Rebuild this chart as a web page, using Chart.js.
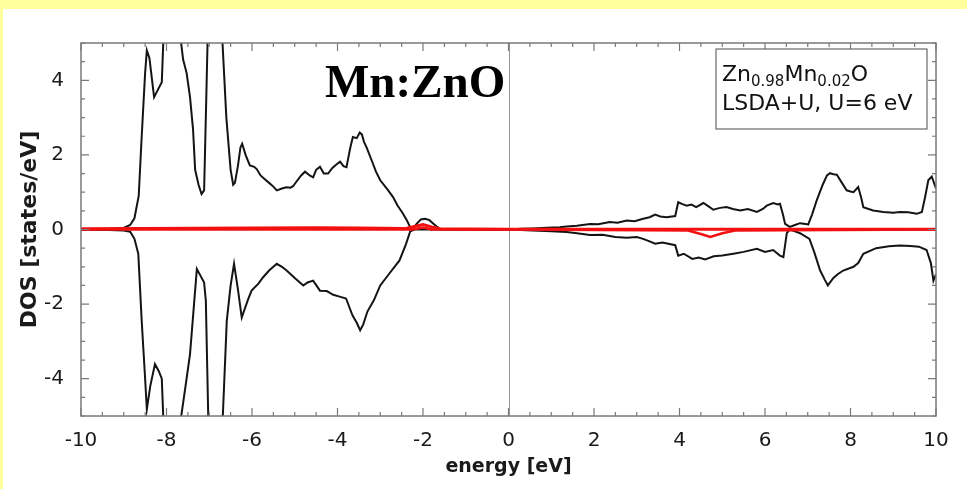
<!DOCTYPE html>
<html>
<head>
<meta charset="utf-8">
<script src="https://cdn.jsdelivr.net/npm/chart.js@4.4.1/dist/chart.umd.min.js"></script>
<style>
  html, body { margin: 0; padding: 0; background: #ffff9c; width: 967px; height: 489px; overflow: hidden; }
  #panel { position: absolute; left: 3px; top: 9px; width: 964px; height: 480px; background: #fff; }
</style>
</head>
<body>
<div id="panel"><canvas id="dos" width="964" height="480"></canvas></div>
<script>
// total DOS, spin up (states/eV)
const upE = [-10, -9.5, -9.0, -8.85, -8.75, -8.65, -8.58, -8.5, -8.46, -8.4, -8.29, -8.2, -8.11, -8.06, -8.0, -7.85, -7.68, -7.61, -7.53, -7.45, -7.38, -7.33, -7.25, -7.18, -7.12, -7.07, -7.03, -6.9, -6.75, -6.69, -6.6, -6.5, -6.44, -6.4, -6.33, -6.27, -6.23, -6.15, -6.05, -5.95, -5.89, -5.8, -5.7, -5.6, -5.5, -5.42, -5.3, -5.2, -5.1, -5.04, -4.95, -4.85, -4.76, -4.65, -4.57, -4.5, -4.41, -4.32, -4.22, -4.12, -4.02, -3.94, -3.86, -3.79, -3.7, -3.64, -3.55, -3.48, -3.43, -3.38, -3.32, -3.2, -3.1, -3.0, -2.85, -2.7, -2.6, -2.47, -2.38, -2.3, -2.25, -2.15, -2.05, -1.95, -1.85, -1.75, -1.68, -1.6, -1.4, -1.0, -0.5, 0, 0.3, 0.57, 0.9, 1.2, 1.36, 1.6, 1.91, 2.1, 2.37, 2.55, 2.77, 2.95, 3.15, 3.3, 3.43, 3.55, 3.7, 3.9, 3.97, 4.07, 4.17, 4.28, 4.39, 4.56, 4.68, 4.79, 4.95, 5.1, 5.25, 5.42, 5.6, 5.81, 5.95, 6.04, 6.19, 6.3, 6.35, 6.42, 6.47, 6.58, 6.7, 6.82, 6.95, 7.01, 7.1, 7.21, 7.35, 7.45, 7.52, 7.6, 7.68, 7.8, 7.91, 8.0, 8.07, 8.18, 8.25, 8.3, 8.53, 8.77, 9.0, 9.16, 9.35, 9.55, 9.67, 9.75, 9.82, 9.9, 10.0];
const upDos = [0, 0.01, 0.04, 0.12, 0.3, 0.9, 2.5, 4.2, 4.8, 4.6, 3.55, 3.75, 3.95, 5.5, 8, 9, 5.2, 4.55, 4.2, 3.55, 2.7, 1.6, 1.2, 0.95, 1.05, 3.5, 5.5, 9, 7, 5.0, 3.0, 1.6, 1.2, 1.25, 1.7, 2.2, 2.3, 2.0, 1.72, 1.68, 1.62, 1.45, 1.35, 1.25, 1.15, 1.05, 1.1, 1.13, 1.12, 1.16, 1.3, 1.45, 1.55, 1.45, 1.4, 1.6, 1.68, 1.5, 1.5, 1.65, 1.75, 1.82, 1.7, 1.67, 2.2, 2.48, 2.45, 2.6, 2.55, 2.35, 2.2, 1.85, 1.55, 1.32, 1.1, 0.87, 0.65, 0.43, 0.25, 0.06, 0.0, 0.15, 0.27, 0.29, 0.25, 0.15, 0.08, 0.02, 0.01, 0.01, 0, 0, 0.02, 0.03, 0.05, 0.06, 0.08, 0.1, 0.15, 0.14, 0.2, 0.18, 0.24, 0.22, 0.29, 0.33, 0.4, 0.35, 0.33, 0.36, 0.73, 0.68, 0.64, 0.67, 0.6, 0.71, 0.62, 0.53, 0.58, 0.6, 0.55, 0.51, 0.55, 0.47, 0.55, 0.64, 0.71, 0.67, 0.69, 0.4, 0.15, 0.07, 0.12, 0.17, 0.15, 0.13, 0.4, 0.78, 1.2, 1.45, 1.51, 1.48, 1.47, 1.25, 1.05, 1.02, 1.0, 1.14, 0.85, 0.6, 0.51, 0.47, 0.45, 0.47, 0.46, 0.42, 0.47, 0.9, 1.32, 1.42, 1.1];

// total DOS, spin down (plotted negative)
const downE = [-10, -9.5, -9.0, -8.85, -8.75, -8.66, -8.58, -8.5, -8.46, -8.38, -8.27, -8.18, -8.11, -8.06, -8.0, -7.8, -7.68, -7.61, -7.53, -7.45, -7.37, -7.29, -7.2, -7.12, -7.08, -7.02, -6.9, -6.75, -6.69, -6.59, -6.5, -6.42, -6.33, -6.24, -6.1, -6.01, -5.85, -5.74, -5.6, -5.42, -5.3, -5.19, -5.0, -4.8, -4.7, -4.57, -4.41, -4.25, -4.1, -3.95, -3.8, -3.65, -3.55, -3.47, -3.4, -3.3, -3.15, -3.0, -2.8, -2.55, -2.4, -2.3, -2.2, -1.5, -0.5, 0, 0.57, 1.0, 1.36, 1.6, 1.91, 2.2, 2.5, 2.77, 3.0, 3.15, 3.3, 3.43, 3.6, 3.9, 3.97, 4.1, 4.3, 4.45, 4.6, 4.8, 5.0, 5.26, 5.5, 5.81, 6.0, 6.19, 6.35, 6.43, 6.51, 6.58, 6.7, 6.82, 7.04, 7.15, 7.29, 7.4, 7.47, 7.6, 7.7, 7.83, 8.07, 8.18, 8.3, 8.6, 8.9, 9.16, 9.4, 9.6, 9.78, 9.88, 9.94, 10.0];
const downDos = [0, -0.01, -0.03, -0.06, -0.25, -0.65, -2.45, -4.0, -4.82, -4.2, -3.61, -3.8, -4.0, -5.5, -8, -8, -5.2, -4.64, -4.0, -3.34, -2.2, -1.06, -1.25, -1.42, -1.91, -5.2, -8, -7, -5.2, -2.45, -1.5, -0.92, -1.6, -2.36, -1.9, -1.64, -1.45, -1.28, -1.1, -0.92, -1.0, -1.1, -1.3, -1.5, -1.42, -1.37, -1.64, -1.65, -1.75, -1.8, -1.85, -2.3, -2.5, -2.7, -2.55, -2.2, -1.9, -1.5, -1.2, -0.83, -0.4, -0.05, 0, 0, 0, 0, -0.03, -0.05, -0.07, -0.1, -0.15, -0.14, -0.2, -0.22, -0.2, -0.25, -0.32, -0.38, -0.35, -0.42, -0.7, -0.65, -0.79, -0.75, -0.8, -0.72, -0.7, -0.65, -0.6, -0.52, -0.6, -0.55, -0.7, -0.74, -0.1, 0, -0.05, -0.1, -0.25, -0.6, -1.1, -1.35, -1.5, -1.3, -1.2, -1.1, -1.0, -0.9, -0.65, -0.5, -0.45, -0.43, -0.44, -0.46, -0.55, -0.9, -1.37, -1.2];

// Mn d partial DOS
const mnUpE = [-10, -8.6, -6.0, -4.5, -3.5, -2.4, -2.2, -2.0, -1.8, -1.6, 0, 10];
const mnUpDos = [0.02, 0.03, 0.04, 0.05, 0.04, 0.03, 0.08, 0.13, 0.07, 0.02, 0.01, 0.01];
const mnDownE = [-10, -2.25, -2.0, -1.8, 0, 4.2, 4.5, 4.72, 5.0, 5.3, 10];
const mnDownDos = [0.0, 0.0, 0.05, 0.0, 0.0, -0.03, -0.12, -0.2, -0.1, -0.03, 0.0];

const xTicks = [-10, -8, -6, -4, -2, 0, 2, 4, 6, 8, 10];
const yTicks = [-4, -2, 0, 2, 4];

function points(xs, ys) {
  return xs.map((e, i) => ({ x: e, y: ys[i] }));
}

// zero-energy marker behind the curves, frame and inward ticks on top
const frameTicks = {
  id: 'frameTicks',
  beforeDatasetsDraw(chart) {
    const { ctx, chartArea: a, scales: { x } } = chart;
    const x0 = Math.round(x.getPixelForValue(0)) + 0.5;
    ctx.save();
    ctx.strokeStyle = '#9a9a9a';
    ctx.lineWidth = 1;
    ctx.beginPath();
    ctx.moveTo(x0, a.top);
    ctx.lineTo(x0, a.bottom);
    ctx.stroke();
    ctx.restore();
  },
  afterDatasetsDraw(chart) {
    const { ctx, chartArea: a, scales: { x, y } } = chart;
    ctx.save();
    ctx.strokeStyle = '#7a7a7a';
    ctx.lineWidth = 1.5;
    ctx.strokeRect(a.left, a.top, a.right - a.left, a.bottom - a.top);
    ctx.lineWidth = 1.2;
    ctx.beginPath();
    for (let i = -20; i <= 20; i++) {
      const px = x.getPixelForValue(i / 2);
      const len = i % 4 === 0 ? 8 : 4;
      ctx.moveTo(px, a.bottom); ctx.lineTo(px, a.bottom - len);
      ctx.moveTo(px, a.top); ctx.lineTo(px, a.top + len);
    }
    for (let i = -10; i <= 10; i++) {
      const py = y.getPixelForValue(i / 2);
      const len = i % 4 === 0 ? 8 : 4;
      ctx.moveTo(a.left, py); ctx.lineTo(a.left + len, py);
      ctx.moveTo(a.right, py); ctx.lineTo(a.right - len, py);
    }
    ctx.stroke();
    ctx.restore();
  },
  afterDraw(chart) {
    const { ctx, chartArea: a } = chart;
    ctx.save();
    ctx.fillStyle = '#000';
    ctx.font = 'bold 47px "Liberation Serif", "DejaVu Serif", serif';
    ctx.textBaseline = 'alphabetic';
    ctx.fillText('Mn:ZnO', a.left + 244, a.top + 54);

    // legend box
    const bx = a.right - 220, by = a.top + 6, bw = 211, bh = 80;
    ctx.fillStyle = '#fff';
    ctx.fillRect(bx, by, bw, bh);
    ctx.strokeStyle = '#6a6a6a';
    ctx.lineWidth = 1.2;
    ctx.strokeRect(bx, by, bw, bh);
    ctx.fillStyle = '#111';
    let tx = bx + 6;
    const base1 = by + 32, base2 = by + 61;
    const big = '22px "DejaVu Sans", sans-serif';
    const small = '15px "DejaVu Sans", sans-serif';
    const parts = [['Zn', big, 0], ['0.98', small, 5], ['Mn', big, 0], ['0.02', small, 5], ['O', big, 0]];
    for (const [t, f, dy] of parts) {
      ctx.font = f;
      ctx.fillText(t, tx, base1 + dy);
      tx += ctx.measureText(t).width;
    }
    ctx.font = big;
    ctx.fillText('LSDA+U, U=6 eV', bx + 6, base2);
    ctx.restore();
  }
};

Chart.defaults.font.family = '"DejaVu Sans", sans-serif';
Chart.defaults.color = '#1a1a1a';

new Chart(document.getElementById('dos'), {
  type: 'line',
  data: {
    datasets: [
      { label: 'Mn up', data: points(mnUpE, mnUpDos), borderColor: '#f21010', borderWidth: 3 },
      { label: 'Mn down', data: points(mnDownE, mnDownDos), borderColor: '#f21010', borderWidth: 2.5 },
      { label: 'spin up', data: points(upE, upDos), borderColor: '#141414', borderWidth: 2 },
      { label: 'spin down', data: points(downE, downDos), borderColor: '#141414', borderWidth: 2 }
    ]
  },
  options: {
    responsive: false,
    animation: false,
    devicePixelRatio: 1,
    elements: { point: { radius: 0 }, line: { tension: 0, fill: false } },
    layout: { padding: { left: 0, top: 34, right: 31, bottom: 0 } },
    plugins: { legend: { display: false }, tooltip: { enabled: false } },
    scales: {
      x: {
        type: 'linear',
        min: -10,
        max: 10,
        grid: { display: false },
        border: { display: false },
        afterBuildTicks: (s) => { s.ticks = xTicks.map(v => ({ value: v })); },
        ticks: { font: { size: 20 }, padding: 5, maxRotation: 0, autoSkip: false },
        title: { display: true, text: 'energy [eV]', font: { size: 19, weight: 'bold' }, padding: { top: 0, bottom: 11 } },
        afterFit: (s) => { s.height = 73; }
      },
      y: {
        min: -5,
        max: 5,
        grid: { display: false },
        border: { display: false },
        afterBuildTicks: (s) => { s.ticks = yTicks.map(v => ({ value: v })); },
        ticks: { font: { size: 20 }, padding: 9 },
        title: { display: true, text: 'DOS [states/eV]', font: { size: 22, weight: 'bold' }, padding: { top: 14, bottom: 0 } },
        afterFit: (s) => { s.width = 78; }
      }
    }
  },
  plugins: [frameTicks]
});
</script>
</body>
</html>
